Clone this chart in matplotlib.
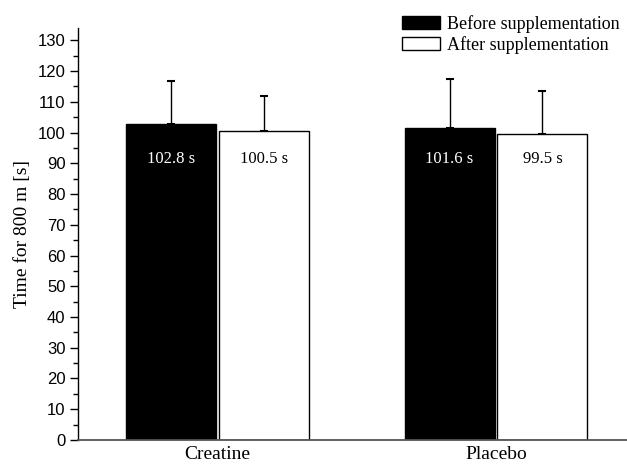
import matplotlib
matplotlib.use("Agg")
import matplotlib.pyplot as plt
import numpy as np

groups = ["Creatine", "Placebo"]
series = ["Before supplementation", "After supplementation"]
before = [102.8, 101.6]
after = [100.5, 99.5]
before_sd = [14.1, 15.8]
after_sd = [11.3, 14.1]

serif = ["Liberation Serif", "DejaVu Serif"]
sans = ["Liberation Sans", "DejaVu Sans"]

fig = plt.figure(figsize=(6.27, 4.65), dpi=100)
ax = fig.add_axes([0.1244, 0.0538, 0.8756, 0.886])

x = np.arange(len(groups))
w = 0.323
gap = 0.005
xb = x - w / 2 - gap
xa = x + w / 2 + gap

ax.bar(xb, before, w, color="black", edgecolor="black", linewidth=1, label=series[0], zorder=2)
ax.bar(xa, after, w, color="white", edgecolor="black", linewidth=1, label=series[1], zorder=2)
ax.errorbar(xb, before, yerr=[np.zeros(2), before_sd], fmt="none", ecolor="black",
            elinewidth=1, capsize=3, capthick=1.5, zorder=1)
ax.errorbar(xa, after, yerr=[np.zeros(2), after_sd], fmt="none", ecolor="black",
            elinewidth=1, capsize=3, capthick=1.5, zorder=1)

for xi, v in zip(xb, before):
    ax.text(xi, 91.3, f"{v:.1f} s", color="white", ha="center", va="center",
            family=serif, fontsize=12, zorder=3)
for xi, v in zip(xa, after):
    ax.text(xi, 91.3, f"{v:.1f} s", color="black", ha="center", va="center",
            family=serif, fontsize=12, zorder=3)

ax.set_xlim(-0.5, 1.47)
ax.set_ylim(0, 134)
ax.set_yticks(np.arange(0, 131, 10))
ax.set_yticks(np.arange(5, 131, 10), minor=True)
ax.tick_params(axis="y", which="major", length=6, width=1, direction="out", labelsize=12, pad=3)
ax.tick_params(axis="y", which="minor", length=3.5, width=1, direction="out")
for lab in ax.get_yticklabels():
    lab.set_family(sans)
ax.set_xticks(x)
ax.set_xticklabels(groups, family=serif, fontsize=14)
ax.tick_params(axis="x", length=0, pad=4)

ax.spines["top"].set_visible(False)
ax.spines["right"].set_visible(False)
ax.spines["bottom"].set_color("#555555")
ax.spines["bottom"].set_linewidth(1.3)
ax.spines["left"].set_linewidth(1)

ax.set_ylabel("Time for 800 m [s]", family=serif, fontsize=14, labelpad=5)

leg = ax.legend(loc="upper right", bbox_to_anchor=(1.008, 0.995), bbox_transform=fig.transFigure,
                frameon=False, prop={"family": serif, "size": 13},
                handlelength=2.15, handleheight=0.7, handletextpad=0.35, labelspacing=0.18,
                borderaxespad=0.3)

fig.savefig("out.png", dpi=100)
